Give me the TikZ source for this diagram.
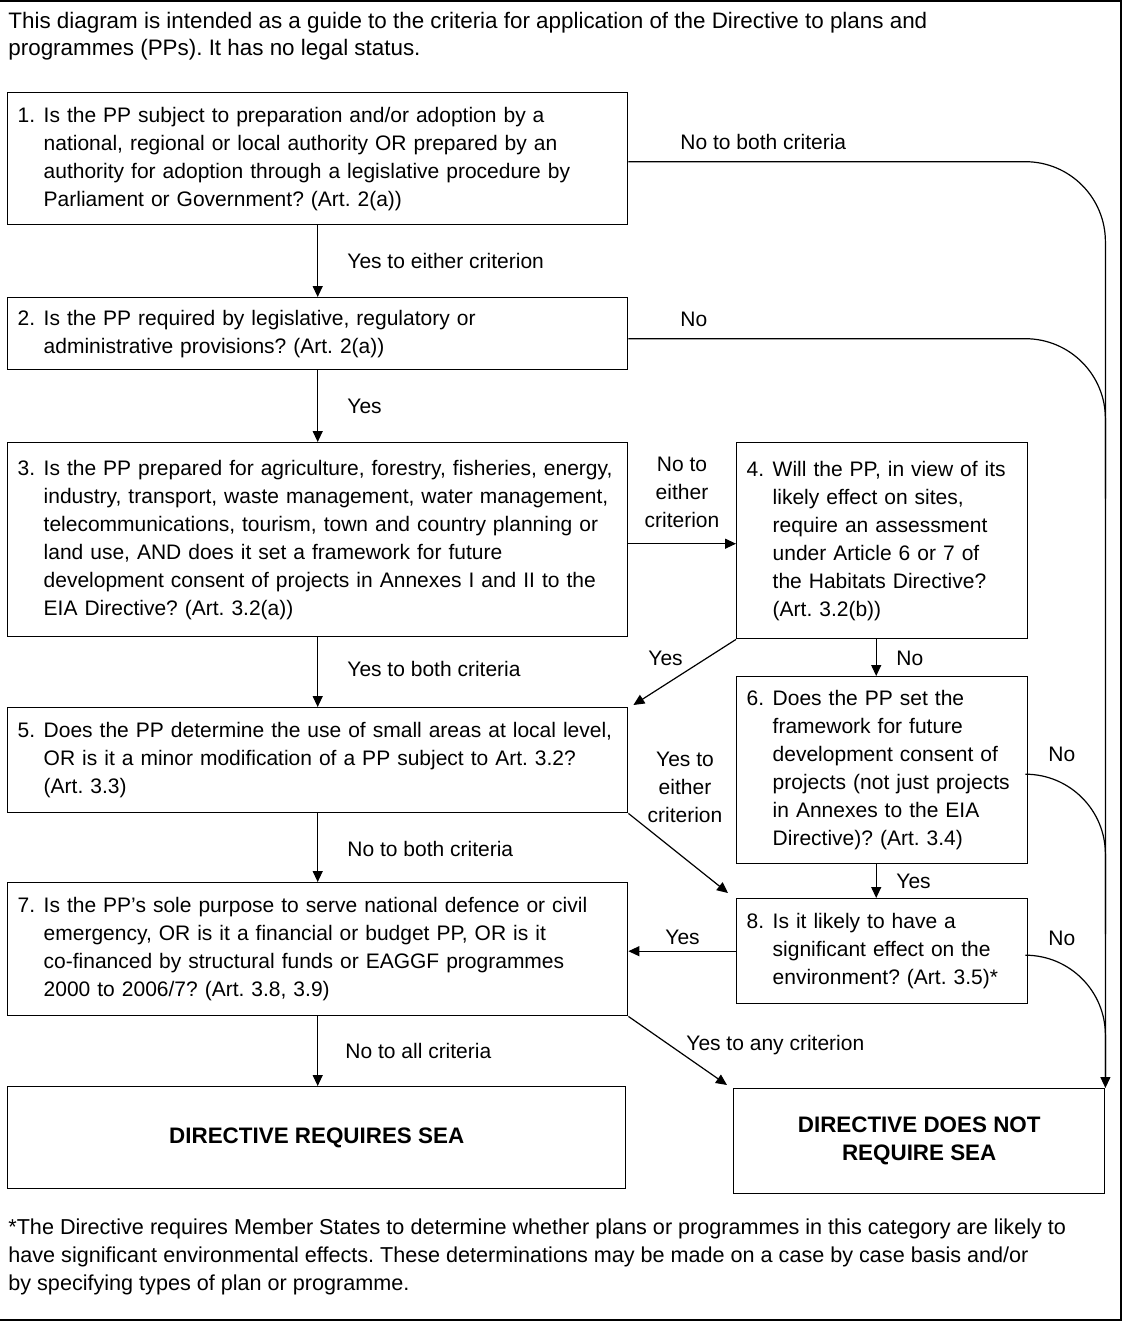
\documentclass[tikz,border=0pt]{standalone}
\usepackage{fontspec}
\setmainfont{Liberation Sans}
\usetikzlibrary{arrows.meta}

% number in front, lines indented after it
\newcommand{\qtext}[2]{\makebox[13pt][l]{#1}\begin{tabular}[t]{@{}l@{}}#2\end{tabular}}

\begin{document}
\begin{tikzpicture}[x=0.5pt,y=-0.5pt,
    every node/.style={font=\frenchspacing\fontsize{10.5}{14}\selectfont},
    qbox/.style={draw, line width=0.7pt, anchor=north west, inner xsep=5pt, inner ysep=0pt, align=left},
    wide/.style={qbox, text width=300pt},
    narrow/.style={qbox, text width=135.5pt},
    endbox/.style={draw, line width=0.7pt, anchor=north west, align=center, font=\bfseries\fontsize{11.2}{14}\selectfont},
    lab/.style={inner sep=0pt, anchor=base west},
    arr/.style={-{Triangle[length=5.5pt,width=5pt]}, line width=0.6pt},
    merge/.style={line width=0.6pt, rounded corners=40pt}]
    \useasboundingbox (0,0) rectangle (1123,1327);

    % frame
    \draw[line width=1pt] (0,1) -- (1121,1) -- (1121,1320) -- (0,1320);

    \node[anchor=north west, inner sep=0pt, align=left, font=\frenchspacing\fontsize{11.2}{13.5}\selectfont] (intro) at (8,12)
        {This diagram is intended as a guide to the criteria for application of the Directive to plans and\\programmes (PPs). It has no legal status.};

    % questions
    \node[wide, minimum height=66pt] (q1) at (7,92) {\qtext{1.}{Is the PP subject to preparation and/or adoption by a\\national, regional or local authority OR prepared by an\\authority for adoption through a legislative procedure by\\Parliament or Government? (Art. 2(a))}};
    \node[wide, minimum height=36pt] (q2) at (7,297) {\qtext{2.}{Is the PP required by legislative, regulatory or\\administrative provisions? (Art. 2(a))}};
    \node[wide, minimum height=97pt] (q3) at (7,442) {\qtext{3.}{Is the PP prepared for agriculture, forestry, fisheries, energy,\\industry, transport, waste management, water management,\\telecommunications, tourism, town and country planning or\\land use, AND does it set a framework for future\\development consent of projects in Annexes I and II to the\\EIA Directive? (Art. 3.2(a))}};
    \node[narrow, minimum height=98pt] (q4) at (736,442) {\qtext{4.}{Will the PP, in view of its\\likely effect on sites,\\require an assessment\\under Article 6 or 7 of\\the Habitats Directive?\\(Art. 3.2(b))}};
    \node[wide, minimum height=52.5pt] (q5) at (7,707) {\qtext{5.}{Does the PP determine the use of small areas at local level,\\OR is it a minor modification of a PP subject to Art. 3.2?\\(Art. 3.3)}};
    \node[narrow, minimum height=93.5pt] (q6) at (736,676) {\qtext{6.}{Does the PP set the\\framework for future\\development consent of\\projects (not just projects\\in Annexes to the EIA\\Directive)? (Art. 3.4)}};
    \node[wide, minimum height=66.5pt] (q7) at (7,882) {\qtext{7.}{Is the PP's sole purpose to serve national defence or civil\\emergency, OR is it a financial or budget PP, OR is it\\co-financed by structural funds or EAGGF programmes\\2000 to 2006/7? (Art. 3.8, 3.9)}};
    \node[narrow, minimum height=52.5pt] (q8) at (736,898) {\qtext{8.}{Is it likely to have a\\significant effect on the\\environment? (Art. 3.5)*}};

    % outcomes
    \node[endbox, minimum width=309pt, minimum height=51pt] (req) at (7,1086) {DIRECTIVE REQUIRES SEA};
    \node[endbox, minimum width=185.5pt, minimum height=52.5pt] (noreq) at (733,1088) {DIRECTIVE DOES NOT\\REQUIRE SEA};

    % main column
    \draw[arr] (q1.south) -- (q2.north);
    \draw[arr] (q2.south) -- (q3.north);
    \draw[arr] (q3.south) -- (q5.north);
    \draw[arr] (q5.south) -- (q7.north);
    \draw[arr] (q7.south) -- (q7.south |- req.north);

    % across
    \draw[arr] ([yshift=-2pt]q3.east) -- ([yshift=-2pt]q3.east -| q4.west);
    \draw[arr] (q4.south west) -- ([xshift=2.5pt,yshift=1pt]q5.north east);
    \draw[arr] ([xshift=-3pt]q4.south) -- ([xshift=-3pt]q6.north);
    \draw[arr] ([xshift=-3pt]q6.south) -- ([xshift=-3pt]q8.north);
    \draw[arr] (q5.south east) -- ([xshift=-4pt,yshift=2.5pt]q8.north west);
    \draw[arr] (q8.west) -- (q8.west -| q7.east);
    \draw[arr] (q7.south east) -- ([xshift=-3pt,yshift=1.5pt]noreq.north west);

    % right hand side
    \draw[arr, merge] ([yshift=-1.5pt]q1.east) -- ([yshift=-1.5pt]q1.east -| noreq.north east) -- (noreq.north east);
    \draw[merge] ([yshift=-2.5pt]q2.east) -- ([yshift=-2.5pt]q2.east -| noreq.north east) -- ++(0,160);
    \draw[merge] ([yshift=-2pt]q6.east) -- ([yshift=-2pt]q6.east -| noreq.north east) -- ++(0,160);
    \draw[merge] ([yshift=-2pt]q8.east) -- ([yshift=-2pt]q8.east -| noreq.north east) -- ([yshift=5pt]noreq.north east);

    % labels
    \node[lab] (l1) at (347,268) {Yes to either criterion};
    \node[lab] (l2) at (347,413) {Yes};
    \node[lab] (l3) at (347,676) {Yes to both criteria};
    \node[lab] (l5) at (347,856) {No to both criteria};
    \node[lab] (l7) at (345,1058) {No to all criteria};
    \node[lab] (l1n) at (680,149) {No to both criteria};
    \node[lab] (l2n) at (680,326) {No};
    \node[inner sep=0pt, anchor=north, align=center] (l3n) at (682,457) {No to\\either\\criterion};
    \node[lab] (l4y) at (648,665) {Yes};
    \node[lab] (l4n) at (896,665) {No};
    \node[inner sep=0pt, anchor=north, align=center] (l5y) at (685,752) {Yes to\\either\\criterion};
    \node[lab] (l6y) at (896,888) {Yes};
    \node[lab] (l6n) at (1048,761) {No};
    \node[lab] (l8y) at (665,944) {Yes};
    \node[lab] (l8n) at (1048,945) {No};
    \node[lab] (l7y) at (686,1050) {Yes to any criterion};

    % footnote
    \node[anchor=north west, inner sep=0pt, align=left, font=\frenchspacing\fontsize{10.8}{14}\selectfont] (note) at (8,1218)
        {*The Directive requires Member States to determine whether plans or programmes in this category are likely to\\have significant environmental effects. These determinations may be made on a case by case basis and/or\\by specifying types of plan or programme.};
\end{tikzpicture}
\end{document}
